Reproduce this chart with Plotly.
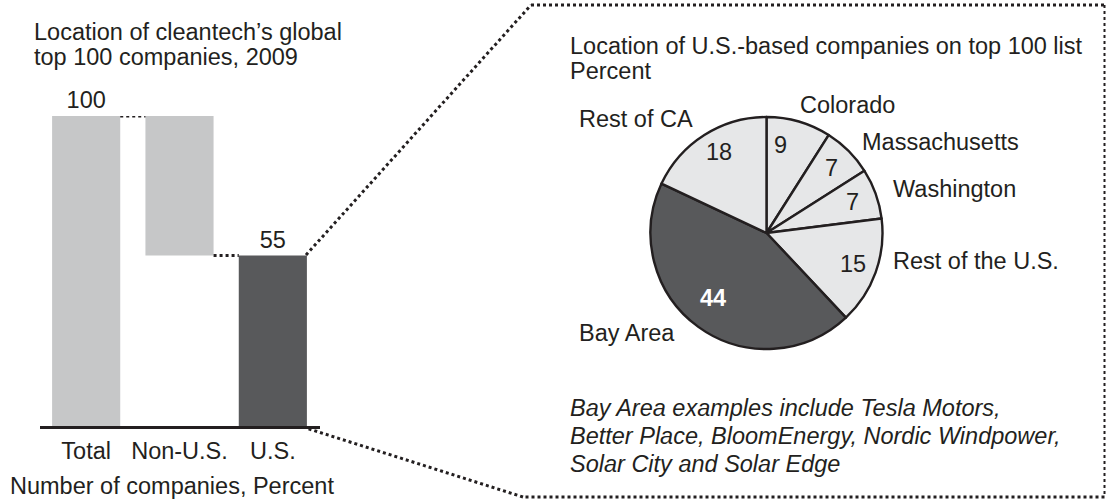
import math
import plotly.graph_objects as go

W, H = 1107, 503

# ---- data ----
bar_categories = ["Total", "Non-U.S.", "U.S."]
bar_values = [100, 45, 55]
bar_bases = [0, 55, 0]
bar_labels = ["100", "", "55"]

pie_labels = ["Colorado", "Massachusetts", "Washington", "Rest of the U.S.", "Bay Area", "Rest of CA"]
pie_values = [9, 7, 7, 15, 44, 18]

TXT = "#231f20"
LIGHT = "#c6c7c8"
DARK = "#58595b"
PIE_LIGHT = "#e6e7e8"
FONT = "Liberation Sans, Arial, Helvetica, sans-serif"
FS = 23.5


def px(x):
    return x / W


def py(y):
    return 1 - y / H


fig = go.Figure()

# ---- waterfall-style bars ----
bar_colors = [LIGHT, LIGHT, DARK]
fig.add_trace(go.Bar(
    x=bar_categories, y=bar_values, base=bar_bases,
    marker=dict(color=bar_colors, line=dict(width=0)),
    width=0.73,
    text=bar_labels, textposition="outside",
    textfont=dict(family=FONT, size=FS, color=TXT),
    cliponaxis=False, showlegend=False, hoverinfo="skip",
))

# ---- pie ----
pie_cx, pie_cy, pie_r = 766.5, 233, 116
pie_colors = [PIE_LIGHT if l != "Bay Area" else DARK for l in pie_labels]
fig.add_trace(go.Pie(
    labels=pie_labels, values=pie_values, sort=False, direction="clockwise",
    rotation=0, textinfo="none", hoverinfo="skip", showlegend=False,
    marker=dict(colors=pie_colors, line=dict(color=TXT, width=2.4)),
    domain=dict(x=[px(pie_cx - pie_r), px(pie_cx + pie_r)],
                y=[py(pie_cy + pie_r), py(pie_cy - pie_r)]),
))

# inside value labels placed from the data (mid-angle of each slice)
label_nudge = {"Colorado": (-12, 0), "Bay Area": (0, -9), "Rest of CA": (2, -4)}
total = sum(pie_values)
cum = 0
for lab, v in zip(pie_labels, pie_values):
    mid = (cum + v / 2) / total * 2 * math.pi
    cum += v
    r = 0.79 * pie_r
    dx, dy = label_nudge.get(lab, (0, 0))
    x = pie_cx + r * math.sin(mid) + dx
    y = pie_cy - r * math.cos(mid) + dy
    bay = lab == "Bay Area"
    fig.add_annotation(
        x=px(x), y=py(y), xref="paper", yref="paper", showarrow=False,
        text=(f"<b>{v}</b>" if bay else str(v)),
        font=dict(family=FONT, size=FS, color="white" if bay else TXT),
        xanchor="center", yanchor="middle",
    )

# outside slice names
outside_pos = {
    "Colorado": (798, 105),
    "Massachusetts": (860, 142),
    "Washington": (891, 189),
    "Rest of the U.S.": (891, 261),
    "Bay Area": (577, 333),
    "Rest of CA": (577, 119),
}
for lab in pie_labels:
    x, y = outside_pos[lab]
    fig.add_annotation(x=px(x), y=py(y), xref="paper", yref="paper", showarrow=False,
                       text=lab, font=dict(family=FONT, size=FS, color=TXT),
                       xanchor="left", yanchor="middle")

# ---- text blocks ----
texts = [
    ("Location of cleantech\u2019s global", 32, 32, False),
    ("top 100 companies, 2009", 32, 57, False),
    ("Number of companies, Percent", 8, 486, False),
    ("Location of U.S.-based companies on top 100 list", 568, 46, False),
    ("Percent", 568, 71, False),
    ("Bay Area examples include Tesla Motors,", 568, 408, True),
    ("Better Place, BloomEnergy, Nordic Windpower,", 568, 436, True),
    ("Solar City and Solar Edge", 568, 464, True),
]
for t, x, y, it in texts:
    fig.add_annotation(x=px(x), y=py(y), xref="paper", yref="paper", showarrow=False,
                       text=(f"<i>{t}</i>" if it else t),
                       font=dict(family=FONT, size=FS, color=TXT),
                       xanchor="left", yanchor="middle")

# ---- connectors between bars (data coordinates) ----
hw = 0.365
dot = dict(color=TXT, width=3, dash="dot")
fig.add_shape(type="line", xref="x", yref="y", x0=0 + hw, x1=1 - hw,
              y0=bar_bases[0] + bar_values[0], y1=bar_bases[0] + bar_values[0], line=dot)
fig.add_shape(type="line", xref="x", yref="y", x0=1 + hw, x1=2 - hw,
              y0=bar_bases[1], y1=bar_bases[1], line=dot)

# ---- zoom-out box and diagonals ----
def pline(x0, y0, x1, y1, w=3):
    fig.add_shape(type="line", xref="paper", yref="paper",
                  x0=px(x0), y0=py(y0), x1=px(x1), y1=py(y1),
                  line=dict(color=TXT, width=w, dash="dot"))

pline(306, 255, 531, 5)
pline(531, 5, 1104.5, 5)
pline(1104.5, 5, 1104.5, 497, 2)
pline(1104.5, 497, 523, 497)
pline(523, 497, 306, 428)

fig.update_layout(
    width=W, height=H,
    margin=dict(l=0, r=0, t=0, b=0),
    paper_bgcolor="white", plot_bgcolor="white",
    font=dict(family=FONT, size=FS, color=TXT),
    xaxis=dict(domain=[px(39.5), px(319.5)], showline=True, linecolor=TXT, linewidth=3,
               showgrid=False, zeroline=False, ticks="",
               tickfont=dict(family=FONT, size=FS, color=TXT), ticklabelstandoff=2,
               fixedrange=True),
    yaxis=dict(domain=[py(426), py(116)], range=[0, 100], visible=False,
               showgrid=False, zeroline=False, fixedrange=True),
)

fig.write_html("out.html",
               config={"displayModeBar": False, "staticPlot": True},
               post_script="document.body.style.margin='0';document.body.style.overflow='hidden';")
